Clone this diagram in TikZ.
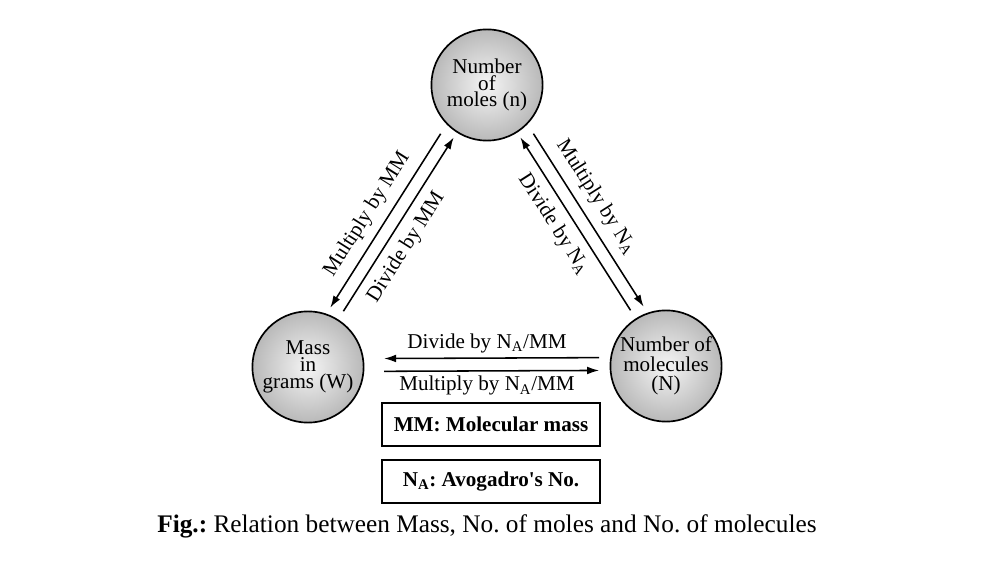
\documentclass[tikz,border=0pt]{standalone}
\usepackage{fontspec}
\setmainfont{Liberation Serif}
\usetikzlibrary{calc,arrows.meta}
\frenchspacing
\def\circsize{2.78cm}
\def\gap{0.325cm}

\begin{document}
\begin{tikzpicture}[x=0.025cm,y=-0.025cm,->,>={Latex[length=8.5pt,width=5.5pt]},line width=1.1pt,font=\fontsize{15}{12}\selectfont]
    \tikzstyle{quantity}=[circle,draw=black,line width=1.2pt,shading=radial,inner color=gray!8,outer color=gray!55,minimum size=\circsize,inner sep=0pt,align=center]
    \tikzstyle{note}=[draw=black,line width=1.2pt,minimum width=5.45cm,minimum height=1.075cm,font=\fontsize{15}{18}\bfseries\selectfont]
    \tikzstyle{tail}=[shorten <=1.65cm,shorten >=1.55cm]
    \tikzstyle{rate}=[sloped,inner sep=6pt]

    \useasboundingbox (0,0) rectangle (984,576);

    % Draw the three quantities
    \node[quantity] (moles) at (487,85) {Number\\of\\moles (n)};
    \node[quantity] (mass) at (308,367) {Mass\\in\\grams (W)};
    \node[quantity,font=\fontsize{15}{14}\selectfont] (molec) at (666,366) {Number of\\molecules\\(N)};

    % Mass and number of moles
    \draw[tail] ($(moles)!\gap!-90:(mass)$) -- node[rate,above,pos=.52] {Multiply by MM} ($(mass)!\gap!90:(moles)$);
    \draw[tail] (mass.center) -- node[rate,below,pos=.46] {Divide by MM} (moles.center);

    % Number of moles and number of molecules
    \draw[tail] ($(moles)!\gap!90:(molec)$) -- node[rate,above,pos=.46] {Multiply by N\textsubscript{A}} ($(molec)!\gap!-90:(moles)$);
    \draw[tail] (molec.center) -- node[rate,below,pos=.54] {Divide by N\textsubscript{A}} (moles.center);

    % Mass and number of molecules
    \draw[shorten <=0.26cm,shorten >=0.49cm] ([yshift=0.21cm]molec.west) -- node[above] {Divide by N\textsubscript{A}/MM} ([yshift=0.21cm]mass.east);
    \draw[shorten <=0.49cm,shorten >=0.26cm] ([yshift=-0.11cm]mass.east) -- node[below] {Multiply by N\textsubscript{A}/MM} ([yshift=-0.11cm]molec.west);

    % Draw the legend boxes
    \foreach \name/\y/\txt in {mm/424.5/{MM: Molecular mass}, na/481.5/{N\textsubscript{A}: Avogadro\textquotesingle s No.}}
        \node[note] (\name) at (491,\y) {\txt};

    \node[font=\fontsize{18}{20}\selectfont] (caption) at (487,526) {\textbf{Fig.:} Relation between Mass, No. of moles and No. of molecules};
\end{tikzpicture}
\end{document}
